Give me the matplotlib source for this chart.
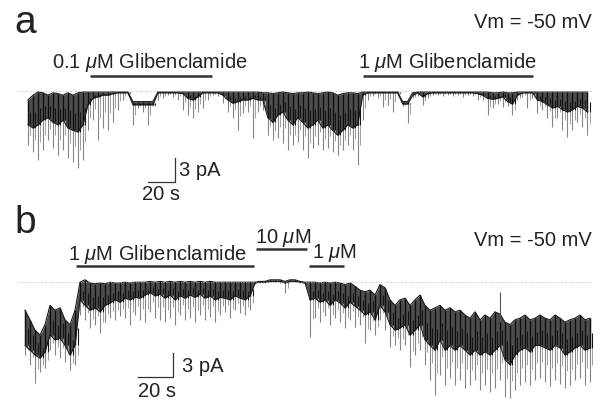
import numpy as np
import matplotlib
matplotlib.use("Agg")
import matplotlib.pyplot as plt

plt.rcParams['font.family'] = ['Liberation Sans', 'DejaVu Sans']
plt.rcParams['mathtext.fontset'] = 'custom'
plt.rcParams['mathtext.it'] = 'Liberation Sans:italic'

# trace a: sampled every 3.7 s, current in pA (0 = closed level)
a_dt = 3.7
a_upper = ([-1.0, -0.4, 0.0, -0.1, -0.4, -0.1, -0.2, -0.4, -0.1, -0.4, -0.1, 0.0]
           + [0.0] * 9 + [-1.2] * 5 + [0.0] * 21
           + [-0.1, -0.1, -0.2, -0.1, 0.0, -0.1, -0.2, -0.1, -0.1, 0.0,
              -0.1, -0.2, -0.1, 0.0, -0.1, -0.4, -0.2, -0.1, -0.1, -0.2]
           + [0.0] * 8 + [-1.2, -1.2, -0.1] + [0.0] * 15
           + [-0.1, -0.1, 0.0, -0.1, -0.1] + [0.0] * 15)
a_core = [-4.1, -4.5, -4.1, -3.5, -3.2, -3.8, -4.1, -3.5, -4.5, -4.8, -5.0, -4.1,
          -1.6, -0.8, -0.6, -0.4, -0.4, -0.2, -0.1, -0.1, -0.1,
          -1.6, -1.6, -1.6, -1.6, -1.6,
          -0.1, -0.1, -0.1, -0.1, -0.1, -0.2, -0.8, -1.0, -0.6, -0.1, -0.1, -0.1, -0.1,
          -0.4, -1.0, -1.4, -1.2, -1.0, -1.0, -0.8, -1.0,
          -1.0, -3.2, -3.8, -2.9, -2.5, -3.5, -4.1, -3.2, -3.8, -4.5,
          -4.1, -3.5, -4.5, -4.1, -4.8, -5.4, -4.8, -4.1, -4.5, -4.1,
          -0.4, -0.1, -0.1, -0.1, -0.1, -0.1, -0.1, -0.1,
          -1.5, -1.5, -0.4, -0.1, -0.6, -0.2,
          -0.1, -0.1, -0.1, -0.1, -0.1, -0.1, -0.1, -0.1, -0.1,
          -0.2, -0.4, -0.8, -0.9, -0.8, -0.6, -1.2, -1.5, -0.4, -0.1, -0.1, -0.1,
          -1.0, -1.2, -1.6, -2.0, -1.8, -2.2, -2.5, -2.2, -1.8, -2.0, -2.5]
a_peak = [-6.6, -7.5, -8.5, -7.2, -6.0, -7.0, -7.9, -7.2, -8.2, -8.8, -9.5, -8.5,
          -4.8, -3.5, -6.0, -4.5, -4.8, -3.8, -2.2, -1.0, -0.4,
          -4.1, -2.0, -2.5, -4.1, -1.8,
          -1.0, -0.8, -0.4, -0.6, -1.0, -2.2, -2.9, -3.2, -2.5, -2.0, -1.0, -0.4, -0.5,
          -1.4, -2.5, -3.2, -4.8, -2.6, -2.5, -5.8, -2.5,
          -2.2, -5.4, -6.0, -5.8, -6.4, -7.2, -6.6, -6.2, -7.2, -8.2,
          -7.0, -6.6, -7.2, -7.0, -7.5, -7.9, -7.2, -6.6, -7.2, -9.1,
          -3.5, -1.0, -0.5, -0.8, -1.9, -1.6, -2.5, -0.5,
          -1.8, -3.9, -0.8, -0.5, -1.6, -0.8,
          -0.4, -0.4, -0.5, -0.4, -0.5, -0.4, -0.6, -0.4, -0.5,
          -1.0, -1.0, -2.9, -2.0, -1.5, -1.9, -1.8, -2.9, -1.0, -0.6, -2.0, -0.8,
          -2.6, -2.2, -3.2, -4.4, -3.2, -4.8, -5.6, -4.8, -3.8, -4.4, -5.4]

# trace b: sampled every 2.857 s
b_dt = 2.857
b_upper = [-3.4, -4.6, -5.9, -6.5, -5.2, -2.8, -3.4, -3.1, -4.6, -5.2, -3.4,
           0.1, 0.4, 0.0, -0.1, 0.0, -0.1, 0.1, 0.0, 0.0, 0.1, 0.0, 0.1, 0.1, 0.1,
           0.2, 0.1, 0.2, 0.1, 0.2, 0.1, 0.2, 0.1, 0.2, 0.1, 0.2, 0.1, 0.2, 0.1,
           0.1, 0.1, 0.1, 0.1, 0.1, 0.1, 0.1,
           0.1, 0.2, 0.2, 0.4, 0.4, 0.4, 0.2, 0.4, 0.4, 0.2, 0.1,
           0.1, 0.1, 0.0, 0.1, 0.0, 0.1, 0.0, -0.2, 0.0, -0.4, -0.9, -1.1, -0.9, -1.5,
           -0.2, -0.6, -2.1, -2.8, -2.1, -1.9, -2.8, -2.1, -1.5, -2.8, -3.4, -3.1,
           -2.8, -3.4, -3.1, -3.6, -3.4, -4.0, -4.4, -3.6, -4.6, -4.0, -4.4, -3.6,
           -3.9, -4.9, -5.2, -4.6, -4.4, -4.0, -4.6, -4.4, -4.0, -4.4, -4.6, -4.0,
           -4.4, -4.9, -4.6, -4.4, -4.0, -4.6, -4.4]
b_core = [-7.8, -8.4, -9.0, -9.4, -8.6, -6.5, -7.1, -6.9, -7.8, -9.0, -7.8,
          -2.1, -2.8, -3.4, -3.1, -3.6, -2.8, -2.5, -2.1, -2.4, -1.9, -2.1, -1.8, -1.9, -1.5,
          -1.2, -1.6, -1.4, -1.9, -1.5, -2.1, -1.6, -1.9, -1.5, -1.8, -1.4, -1.9, -1.6, -2.1,
          -1.8, -1.9, -2.1, -1.6, -1.9, -2.1, -1.6,
          0.0, 0.1, 0.1, 0.2, 0.2, 0.2, 0.0, 0.2, 0.2, 0.1, 0.0,
          -2.1, -1.9, -2.4, -2.1, -2.8, -2.1, -2.5, -3.1, -2.4, -2.9, -3.4, -4.0, -3.6, -4.6,
          -2.8, -3.6, -5.2, -5.9, -5.6, -5.2, -6.5, -5.9, -5.2, -7.1, -7.8, -8.4,
          -7.1, -8.4, -7.8, -8.4, -7.8, -8.4, -9.0, -8.4, -9.0, -8.6, -9.0, -8.4,
          -7.8, -9.6, -10.2, -9.0, -8.4, -8.1, -8.6, -7.8, -7.8, -8.1, -8.4, -7.8,
          -8.1, -9.0, -8.6, -8.1, -7.8, -8.4, -8.1]
b_peak = [-9.0, -10.2, -12.5, -11.1, -10.6, -8.4, -9.0, -9.4, -9.9, -10.9, -10.2,
          -4.0, -4.6, -5.6, -5.2, -6.2, -4.9, -4.4, -4.6, -4.1, -4.4, -5.2, -4.0, -4.6, -4.9,
          -3.6, -4.4, -4.6, -4.9, -4.4, -5.2, -4.0, -4.6, -4.4, -4.9, -4.0, -4.6, -4.2, -4.9,
          -4.0, -3.6, -4.4, -3.4, -3.8, -4.0, -3.4,
          -0.1, 0.0, 0.0, 0.1, 0.1, 0.0, -1.2, 0.1, 0.1, 0.0, -0.2,
          -6.8, -4.4, -4.9, -4.1, -5.2, -4.4, -4.9, -5.6, -4.6, -5.5, -5.2, -7.5, -5.9, -6.5,
          -4.6, -5.9, -8.0, -7.8, -8.4, -7.8, -10.5, -9.0, -8.4, -10.2, -12.1, -14.0,
          -11.5, -12.8, -11.9, -12.8, -12.1, -13.1, -12.8, -12.1, -13.4, -12.8, -13.6, -13.1,
          -12.1, -14.2, -14.4, -13.4, -12.8, -12.4, -12.8, -12.1, -11.9, -12.4, -12.9, -12.1,
          -12.6, -13.1, -12.8, -12.1, -11.9, -12.8, -12.4]

# brief upward flicker in trace b (time s, top pA)
b_flicker = (271.4, -1.1)

# drug applications (start s, end s, level pA)
a_drugs = [(45.9, 136.3, 2.0), (248.1, 374.1, 2.0)]
b_drugs = [(28.6, 131.4, 2.1), (131.4, 161.7, 4.25), (161.7, 182.9, 2.1)]

W, H = 602, 400
fig = plt.figure(figsize=(W / 100, H / 100), dpi=100)
ax_a = fig.add_axes([0, 0.5, 1, 0.5])
ax_b = fig.add_axes([0, 0, 1, 0.5])


def draw_trace(ax, dt, upper, core, peak):
    upper = np.array(upper)
    core = np.array(core)
    peak = np.array(peak)
    t = np.arange(len(upper)) * dt
    # openings: light spikes to the deepest point, shorter ones in between
    ax.vlines(t, upper, peak, color='#858585', lw=0.8)
    ax.vlines(t + dt / 2, core, (core + peak) / 2, color='#a0a0a0', lw=0.7)
    # dense core of the record
    ax.fill_between(t, upper, core, color='#262626', alpha=0.82, lw=0)
    ax.vlines(t, upper, core, color='#0d0d0d', lw=1.0)
    ax.vlines(t + dt / 2, (upper + core) / 2, core, color='#151515', lw=0.8)
    ax.plot(t, core, color='#151515', lw=0.7)
    ax.plot(t, upper, color='#1e1e1e', lw=0.8)
    return t


def scale_bar(ax, t0, i0, ts=20, ia=3):
    ax.plot([t0 - ts, t0, t0], [i0, i0, i0 + ia], color='#333333', lw=0.9)


# panel a
draw_trace(ax_a, a_dt, a_upper, a_core, a_peak)
ax_a.plot([-7.4, 418.5], [0.15, 0.15], ls=(0, (1, 2)), color='#aaaaaa', lw=0.6)
for t0, t1, lev in a_drugs:
    ax_a.plot([t0, t1], [lev, lev], color='#333333', lw=1.8, solid_capstyle='butt')
scale_bar(ax_a, 108.9, -11.25)
ax_a.set_xlim(-20.74, 425.2)
ax_a.set_ylim(-13.5, 11.5)
ax_a.axis('off')

# panel b
draw_trace(ax_b, b_dt, b_upper, b_core, b_peak)
ax_b.vlines(b_flicker[0], b_flicker[1], -4.9, color='#555555', lw=0.8)
ax_b.plot([-4.0, 324.6], [0.15, 0.15], ls=(0, (1, 2)), color='#aaaaaa', lw=0.6)
for t0, t1, lev in b_drugs:
    ax_b.plot([t0 + 0.8, t1 - 0.8], [lev, lev], color='#333333', lw=1.8, solid_capstyle='butt')
scale_bar(ax_b, 84.6, -11.75)
ax_b.set_xlim(-14.29, 329.7)
ax_b.set_ylim(-14.625, 10.375)
ax_b.axis('off')


def put(x, y, s, size=14.5, ha='left'):
    fig.text(x / W, 1 - y / H, s, fontsize=size, ha=ha, va='baseline', color='#222222')


put(14, 33, 'a', size=28)
put(592, 28, 'Vm = -50 mV', ha='right')
put(52, 68, r'0.1 $\mu$M Glibenclamide')
put(358, 68, r'1 $\mu$M Glibenclamide')
put(179, 176, '3 pA')
put(142, 200, '20 s')

put(14, 233, 'b', size=28)
put(592, 246, 'Vm = -50 mV', ha='right')
put(68, 260, r'1 $\mu$M Glibenclamide')
put(255, 243, r'10 $\mu$M')
put(312, 258, r'1 $\mu$M')
put(182, 372, '3 pA')
put(138, 397, '20 s')

fig.savefig('out.png', dpi=100)
